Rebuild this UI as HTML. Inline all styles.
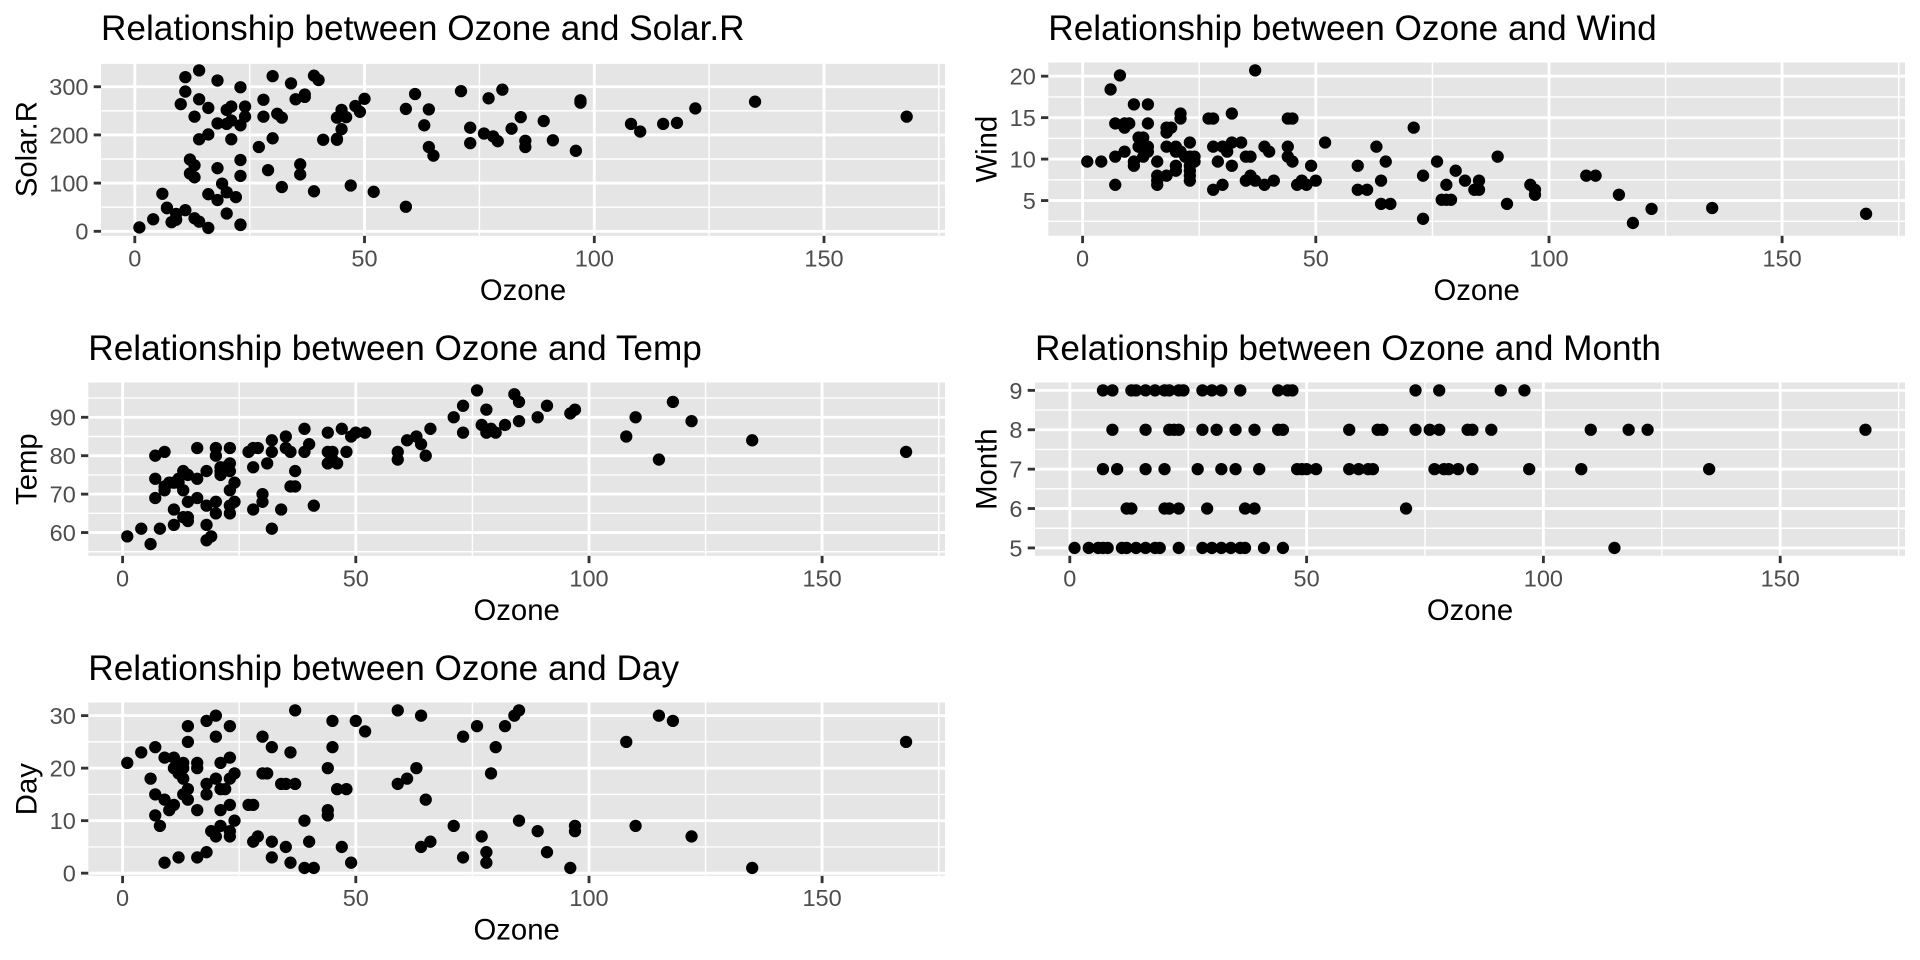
<!DOCTYPE html>
<html><head><meta charset="utf-8"><style>
html,body{margin:0;padding:0;background:#fff;}
svg{display:block;}
text{font-family:"Liberation Sans",Arial,Helvetica,sans-serif;}
.t{font-size:35.2px;fill:#000;}
.at{font-size:29.3px;fill:#000;}
.tk{font-size:23.5px;fill:#4D4D4D;}
.mn{stroke:#fff;stroke-width:1.42;}
.mj{stroke:#fff;stroke-width:2.85;}
.tm{stroke:#333;stroke-width:2.85;}
.pt{fill:none;stroke:#000;stroke-width:12.3;stroke-linecap:round;vector-effect:non-scaling-stroke;}
</style></head><body>
<svg width="1920" height="960" viewBox="0 0 1920 960" xmlns="http://www.w3.org/2000/svg">
<rect width="1920" height="960" fill="#fff"/>

<!-- Panel 1: Solar.R -->
<text class="t" x="101" y="40">Relationship between Ozone and Solar.R</text>
<rect x="101" y="62.5" width="844" height="173.3" fill="#E5E5E5"/>
<g class="mn">
<line x1="249.7" y1="62.5" x2="249.7" y2="235.8"/><line x1="479.4" y1="62.5" x2="479.4" y2="235.8"/><line x1="709.1" y1="62.5" x2="709.1" y2="235.8"/><line x1="938.8" y1="62.5" x2="938.8" y2="235.8"/>
<line x1="101" y1="207.21" x2="945" y2="207.21"/><line x1="101" y1="159.02" x2="945" y2="159.02"/><line x1="101" y1="110.84" x2="945" y2="110.84"/><line x1="101" y1="63.2" x2="945" y2="63.2"/>
</g>
<g class="mj">
<line x1="134.8" y1="62.5" x2="134.8" y2="235.8"/><line x1="364.5" y1="62.5" x2="364.5" y2="235.8"/><line x1="594.3" y1="62.5" x2="594.3" y2="235.8"/><line x1="824" y1="62.5" x2="824" y2="235.8"/>
<line x1="101" y1="231.3" x2="945" y2="231.3"/><line x1="101" y1="183.11" x2="945" y2="183.11"/><line x1="101" y1="134.93" x2="945" y2="134.93"/><line x1="101" y1="86.75" x2="945" y2="86.75"/>
</g>
<g class="tm">
<line x1="134.8" y1="235.8" x2="134.8" y2="243.1"/><line x1="364.5" y1="235.8" x2="364.5" y2="243.1"/><line x1="594.3" y1="235.8" x2="594.3" y2="243.1"/><line x1="824" y1="235.8" x2="824" y2="243.1"/>
<line x1="93.7" y1="231.3" x2="101" y2="231.3"/><line x1="93.7" y1="183.11" x2="101" y2="183.11"/><line x1="93.7" y1="134.93" x2="101" y2="134.93"/><line x1="93.7" y1="86.75" x2="101" y2="86.75"/>
</g>
<g class="tk" text-anchor="middle">
<text x="134.8" y="266.5">0</text><text x="364.5" y="266.5">50</text><text x="594.3" y="266.5">100</text><text x="824" y="266.5">150</text>
</g>
<g class="tk" text-anchor="end">
<text x="88.5" y="239.7">0</text><text x="88.5" y="191.5">100</text><text x="88.5" y="143.3">200</text><text x="88.5" y="95.2">300</text>
</g>
<text class="at" x="523" y="300" text-anchor="middle">Ozone</text>
<text class="at" transform="translate(36.7,149.15) rotate(-90)" text-anchor="middle">Solar.R</text>
<path class="pt" transform="translate(134.8,235.8) scale(4.5945,-0.48179) translate(0,9.35)" d="M41 190h0M36 118h0M12 149h0M18 313h0M23 299h0M19 99h0M8 19h0M16 256h0M11 290h0M14 274h0M18 65h0M14 334h0M34 307h0M6 78h0M30 322h0M11 44h0M1 8h0M11 320h0M4 25h0M32 92h0M23 13h0M45 252h0M115 223h0M37 279h0M29 127h0M71 291h0M39 323h0M23 148h0M21 191h0M37 284h0M20 37h0M12 120h0M13 137h0M135 269h0M49 248h0M32 236h0M64 175h0M40 314h0M77 276h0M97 267h0M97 272h0M85 175h0M10 264h0M27 175h0M7 48h0M48 260h0M35 274h0M61 285h0M79 187h0M63 220h0M16 7h0M80 294h0M108 223h0M20 81h0M52 82h0M82 213h0M50 275h0M64 253h0M59 254h0M39 83h0M9 24h0M16 77h0M122 255h0M89 229h0M110 207h0M44 192h0M28 273h0M65 157h0M22 71h0M59 51h0M23 115h0M31 244h0M44 190h0M21 259h0M9 36h0M45 212h0M168 238h0M73 215h0M76 203h0M118 225h0M84 237h0M85 188h0M96 167h0M78 197h0M73 183h0M91 189h0M47 95h0M32 92h0M20 252h0M23 220h0M21 230h0M24 259h0M44 236h0M21 259h0M28 238h0M9 24h0M13 112h0M46 237h0M18 224h0M13 27h0M24 238h0M16 201h0M13 238h0M23 14h0M36 139h0M7 49h0M14 20h0M30 193h0M14 191h0M18 131h0M20 223h0"/>

<!-- Panel 2: Wind -->
<text class="t" x="1048.3" y="40">Relationship between Ozone and Wind</text>
<rect x="1048.3" y="62.5" width="856.7" height="173.3" fill="#E5E5E5"/>
<g class="mn">
<line x1="1199.2" y1="62.5" x2="1199.2" y2="235.8"/><line x1="1432.4" y1="62.5" x2="1432.4" y2="235.8"/><line x1="1665.6" y1="62.5" x2="1665.6" y2="235.8"/><line x1="1898.7" y1="62.5" x2="1898.7" y2="235.8"/>
<line x1="1048.3" y1="221.29" x2="1905" y2="221.29"/><line x1="1048.3" y1="179.83" x2="1905" y2="179.83"/><line x1="1048.3" y1="138.37" x2="1905" y2="138.37"/><line x1="1048.3" y1="96.91" x2="1905" y2="96.91"/>
</g>
<g class="mj">
<line x1="1082.6" y1="62.5" x2="1082.6" y2="235.8"/><line x1="1315.8" y1="62.5" x2="1315.8" y2="235.8"/><line x1="1549" y1="62.5" x2="1549" y2="235.8"/><line x1="1782.1" y1="62.5" x2="1782.1" y2="235.8"/>
<line x1="1048.3" y1="200.56" x2="1905" y2="200.56"/><line x1="1048.3" y1="159.1" x2="1905" y2="159.1"/><line x1="1048.3" y1="117.64" x2="1905" y2="117.64"/><line x1="1048.3" y1="76.18" x2="1905" y2="76.18"/>
</g>
<g class="tm">
<line x1="1082.6" y1="235.8" x2="1082.6" y2="243.1"/><line x1="1315.8" y1="235.8" x2="1315.8" y2="243.1"/><line x1="1549" y1="235.8" x2="1549" y2="243.1"/><line x1="1782.1" y1="235.8" x2="1782.1" y2="243.1"/>
<line x1="1041" y1="200.56" x2="1048.3" y2="200.56"/><line x1="1041" y1="159.1" x2="1048.3" y2="159.1"/><line x1="1041" y1="117.64" x2="1048.3" y2="117.64"/><line x1="1041" y1="76.18" x2="1048.3" y2="76.18"/>
</g>
<g class="tk" text-anchor="middle">
<text x="1082.6" y="266.5">0</text><text x="1315.8" y="266.5">50</text><text x="1549" y="266.5">100</text><text x="1782.1" y="266.5">150</text>
</g>
<g class="tk" text-anchor="end">
<text x="1035.8" y="209">5</text><text x="1035.8" y="167.5">10</text><text x="1035.8" y="126">15</text><text x="1035.8" y="84.6">20</text>
</g>
<text class="at" x="1476.65" y="300" text-anchor="middle">Ozone</text>
<text class="at" transform="translate(996.7,149.15) rotate(-90)" text-anchor="middle">Wind</text>
<path class="pt" transform="translate(1082.6,235.8) scale(4.6636,-8.2919) translate(0,-0.75)" d="M41 7.4h0M36 8h0M12 12.6h0M18 11.5h0M28 14.9h0M23 8.6h0M19 13.8h0M8 20.1h0M7 6.9h0M16 9.7h0M11 9.2h0M14 10.9h0M18 13.2h0M14 11.5h0M34 12h0M6 18.4h0M30 11.5h0M11 9.7h0M1 9.7h0M11 16.6h0M4 9.7h0M32 12h0M23 12h0M45 14.9h0M115 5.7h0M37 7.4h0M29 9.7h0M71 13.8h0M39 11.5h0M23 8h0M21 14.9h0M37 20.7h0M20 9.2h0M12 11.5h0M13 10.3h0M135 4.1h0M49 9.2h0M32 9.2h0M64 4.6h0M40 10.9h0M77 5.1h0M97 6.3h0M97 5.7h0M85 7.4h0M10 14.3h0M27 14.9h0M7 14.3h0M48 6.9h0M35 10.3h0M61 6.3h0M79 5.1h0M63 11.5h0M16 6.9h0M80 8.6h0M108 8h0M20 8.6h0M52 12h0M82 7.4h0M50 7.4h0M64 7.4h0M59 9.2h0M39 6.9h0M9 13.8h0M16 7.4h0M78 6.9h0M35 7.4h0M66 4.6h0M122 4h0M89 10.3h0M110 8h0M44 11.5h0M28 11.5h0M65 9.7h0M22 10.3h0M59 6.3h0M23 7.4h0M31 10.9h0M44 10.3h0M21 15.5h0M9 14.3h0M45 9.7h0M168 3.4h0M73 8h0M76 9.7h0M118 2.3h0M84 6.3h0M85 6.3h0M96 6.9h0M78 5.1h0M73 2.8h0M91 4.6h0M47 7.4h0M32 15.5h0M20 10.9h0M23 10.3h0M21 10.9h0M24 9.7h0M44 14.9h0M21 15.5h0M28 6.3h0M9 10.9h0M13 11.5h0M46 6.9h0M18 13.8h0M13 10.3h0M24 10.3h0M16 8h0M13 12.6h0M23 9.2h0M36 10.3h0M7 10.3h0M14 16.6h0M30 6.9h0M14 14.3h0M18 8h0M20 11.5h0"/>

<!-- Panel 3: Temp -->
<text class="t" x="88.3" y="360">Relationship between Ozone and Temp</text>
<rect x="88.3" y="382.5" width="856.7" height="173.3" fill="#E5E5E5"/>
<g class="mn">
<line x1="239.2" y1="382.5" x2="239.2" y2="555.8"/><line x1="472.4" y1="382.5" x2="472.4" y2="555.8"/><line x1="705.6" y1="382.5" x2="705.6" y2="555.8"/><line x1="938.7" y1="382.5" x2="938.7" y2="555.8"/>
<line x1="88.3" y1="551.77" x2="945" y2="551.77"/><line x1="88.3" y1="513.34" x2="945" y2="513.34"/><line x1="88.3" y1="474.91" x2="945" y2="474.91"/><line x1="88.3" y1="436.49" x2="945" y2="436.49"/><line x1="88.3" y1="398.06" x2="945" y2="398.06"/>
</g>
<g class="mj">
<line x1="122.6" y1="382.5" x2="122.6" y2="555.8"/><line x1="355.8" y1="382.5" x2="355.8" y2="555.8"/><line x1="589" y1="382.5" x2="589" y2="555.8"/><line x1="822.1" y1="382.5" x2="822.1" y2="555.8"/>
<line x1="88.3" y1="532.55" x2="945" y2="532.55"/><line x1="88.3" y1="494.13" x2="945" y2="494.13"/><line x1="88.3" y1="455.7" x2="945" y2="455.7"/><line x1="88.3" y1="417.28" x2="945" y2="417.28"/>
</g>
<g class="tm">
<line x1="122.6" y1="555.8" x2="122.6" y2="563.1"/><line x1="355.8" y1="555.8" x2="355.8" y2="563.1"/><line x1="589" y1="555.8" x2="589" y2="563.1"/><line x1="822.1" y1="555.8" x2="822.1" y2="563.1"/>
<line x1="81" y1="532.55" x2="88.3" y2="532.55"/><line x1="81" y1="494.13" x2="88.3" y2="494.13"/><line x1="81" y1="455.7" x2="88.3" y2="455.7"/><line x1="81" y1="417.28" x2="88.3" y2="417.28"/>
</g>
<g class="tk" text-anchor="middle">
<text x="122.6" y="586.5">0</text><text x="355.8" y="586.5">50</text><text x="589" y="586.5">100</text><text x="822.1" y="586.5">150</text>
</g>
<g class="tk" text-anchor="end">
<text x="75.8" y="541">60</text><text x="75.8" y="502.5">70</text><text x="75.8" y="464.1">80</text><text x="75.8" y="425.7">90</text>
</g>
<text class="at" x="516.65" y="620" text-anchor="middle">Ozone</text>
<text class="at" transform="translate(36.7,469.15) rotate(-90)" text-anchor="middle">Temp</text>
<path class="pt" transform="translate(122.6,555.8) scale(4.6636,-3.8426) translate(0,-53.95)" d="M41 67h0M36 72h0M12 74h0M18 62h0M28 66h0M23 65h0M19 59h0M8 61h0M7 74h0M16 69h0M11 66h0M14 68h0M18 58h0M14 64h0M34 66h0M6 57h0M30 68h0M11 62h0M1 59h0M11 73h0M4 61h0M32 61h0M23 67h0M45 81h0M115 79h0M37 76h0M29 82h0M71 90h0M39 87h0M23 82h0M21 77h0M37 72h0M20 65h0M12 73h0M13 76h0M135 84h0M49 85h0M32 81h0M64 83h0M40 83h0M77 88h0M97 92h0M97 92h0M85 89h0M10 73h0M27 81h0M7 80h0M48 81h0M35 82h0M61 84h0M79 87h0M63 85h0M16 74h0M80 86h0M108 85h0M20 82h0M52 86h0M82 88h0M50 86h0M64 83h0M59 81h0M39 81h0M9 81h0M16 82h0M78 86h0M35 85h0M66 87h0M122 89h0M89 90h0M110 90h0M44 86h0M28 82h0M65 80h0M22 77h0M59 79h0M23 76h0M31 78h0M44 78h0M21 77h0M9 72h0M45 79h0M168 81h0M73 86h0M76 97h0M118 94h0M84 96h0M85 94h0M96 91h0M78 92h0M73 93h0M91 93h0M47 87h0M32 84h0M20 80h0M23 78h0M21 75h0M24 73h0M44 81h0M21 76h0M28 77h0M9 71h0M13 71h0M46 78h0M18 67h0M13 76h0M24 68h0M16 82h0M13 64h0M23 71h0M36 81h0M7 69h0M14 63h0M30 70h0M14 75h0M18 76h0M20 68h0"/>

<!-- Panel 4: Month -->
<text class="t" x="1035" y="360">Relationship between Ozone and Month</text>
<rect x="1035" y="382.5" width="870" height="173.3" fill="#E5E5E5"/>
<g class="mn">
<line x1="1188.2" y1="382.5" x2="1188.2" y2="555.8"/><line x1="1425" y1="382.5" x2="1425" y2="555.8"/><line x1="1661.8" y1="382.5" x2="1661.8" y2="555.8"/><line x1="1898.6" y1="382.5" x2="1898.6" y2="555.8"/>
<line x1="1035" y1="528.23" x2="1905" y2="528.23"/><line x1="1035" y1="488.84" x2="1905" y2="488.84"/><line x1="1035" y1="449.46" x2="1905" y2="449.46"/><line x1="1035" y1="410.07" x2="1905" y2="410.07"/>
</g>
<g class="mj">
<line x1="1069.8" y1="382.5" x2="1069.8" y2="555.8"/><line x1="1306.6" y1="382.5" x2="1306.6" y2="555.8"/><line x1="1543.4" y1="382.5" x2="1543.4" y2="555.8"/><line x1="1780.2" y1="382.5" x2="1780.2" y2="555.8"/>
<line x1="1035" y1="547.92" x2="1905" y2="547.92"/><line x1="1035" y1="508.54" x2="1905" y2="508.54"/><line x1="1035" y1="469.15" x2="1905" y2="469.15"/><line x1="1035" y1="429.76" x2="1905" y2="429.76"/><line x1="1035" y1="390.38" x2="1905" y2="390.38"/>
</g>
<g class="tm">
<line x1="1069.8" y1="555.8" x2="1069.8" y2="563.1"/><line x1="1306.6" y1="555.8" x2="1306.6" y2="563.1"/><line x1="1543.4" y1="555.8" x2="1543.4" y2="563.1"/><line x1="1780.2" y1="555.8" x2="1780.2" y2="563.1"/>
<line x1="1027.7" y1="547.92" x2="1035" y2="547.92"/><line x1="1027.7" y1="508.54" x2="1035" y2="508.54"/><line x1="1027.7" y1="469.15" x2="1035" y2="469.15"/><line x1="1027.7" y1="429.76" x2="1035" y2="429.76"/><line x1="1027.7" y1="390.38" x2="1035" y2="390.38"/>
</g>
<g class="tk" text-anchor="middle">
<text x="1069.8" y="586.5">0</text><text x="1306.6" y="586.5">50</text><text x="1543.4" y="586.5">100</text><text x="1780.2" y="586.5">150</text>
</g>
<g class="tk" text-anchor="end">
<text x="1022.5" y="556.3">5</text><text x="1022.5" y="516.9">6</text><text x="1022.5" y="477.5">7</text><text x="1022.5" y="438.2">8</text><text x="1022.5" y="398.8">9</text>
</g>
<text class="at" x="1470" y="620" text-anchor="middle">Ozone</text>
<text class="at" transform="translate(996.7,469.15) rotate(-90)" text-anchor="middle">Month</text>
<path class="pt" transform="translate(1069.8,555.8) scale(4.736,-39.386) translate(0,-4.8)" d="M41 5h0M36 5h0M12 5h0M18 5h0M28 5h0M23 5h0M19 5h0M8 5h0M7 5h0M16 5h0M11 5h0M14 5h0M18 5h0M14 5h0M34 5h0M6 5h0M30 5h0M11 5h0M1 5h0M11 5h0M4 5h0M32 5h0M23 5h0M45 5h0M115 5h0M37 5h0M29 6h0M71 6h0M39 6h0M23 6h0M21 6h0M37 6h0M20 6h0M12 6h0M13 6h0M135 7h0M49 7h0M32 7h0M64 7h0M40 7h0M77 7h0M97 7h0M85 7h0M10 7h0M27 7h0M7 7h0M48 7h0M35 7h0M61 7h0M79 7h0M63 7h0M16 7h0M80 7h0M108 7h0M20 7h0M52 7h0M82 7h0M50 7h0M64 7h0M59 7h0M39 8h0M9 8h0M16 8h0M78 8h0M35 8h0M66 8h0M122 8h0M89 8h0M110 8h0M44 8h0M28 8h0M65 8h0M22 8h0M59 8h0M23 8h0M31 8h0M21 8h0M9 8h0M45 8h0M168 8h0M73 8h0M76 8h0M118 8h0M84 8h0M85 8h0M96 9h0M78 9h0M73 9h0M91 9h0M47 9h0M32 9h0M20 9h0M23 9h0M21 9h0M24 9h0M44 9h0M28 9h0M9 9h0M13 9h0M46 9h0M18 9h0M16 9h0M36 9h0M7 9h0M14 9h0M30 9h0"/>

<!-- Panel 5: Day -->
<text class="t" x="88.3" y="680">Relationship between Ozone and Day</text>
<rect x="88.3" y="702.5" width="856.7" height="173.3" fill="#E5E5E5"/>
<g class="mn">
<line x1="239.2" y1="702.5" x2="239.2" y2="875.8"/><line x1="472.4" y1="702.5" x2="472.4" y2="875.8"/><line x1="705.6" y1="702.5" x2="705.6" y2="875.8"/><line x1="938.7" y1="702.5" x2="938.7" y2="875.8"/>
<line x1="88.3" y1="846.92" x2="945" y2="846.92"/><line x1="88.3" y1="794.4" x2="945" y2="794.4"/><line x1="88.3" y1="741.88" x2="945" y2="741.88"/>
</g>
<g class="mj">
<line x1="122.6" y1="702.5" x2="122.6" y2="875.8"/><line x1="355.8" y1="702.5" x2="355.8" y2="875.8"/><line x1="589" y1="702.5" x2="589" y2="875.8"/><line x1="822.1" y1="702.5" x2="822.1" y2="875.8"/>
<line x1="88.3" y1="873.17" x2="945" y2="873.17"/><line x1="88.3" y1="820.67" x2="945" y2="820.67"/><line x1="88.3" y1="768.14" x2="945" y2="768.14"/><line x1="88.3" y1="715.63" x2="945" y2="715.63"/>
</g>
<g class="tm">
<line x1="122.6" y1="875.8" x2="122.6" y2="883.1"/><line x1="355.8" y1="875.8" x2="355.8" y2="883.1"/><line x1="589" y1="875.8" x2="589" y2="883.1"/><line x1="822.1" y1="875.8" x2="822.1" y2="883.1"/>
<line x1="81" y1="873.17" x2="88.3" y2="873.17"/><line x1="81" y1="820.67" x2="88.3" y2="820.67"/><line x1="81" y1="768.14" x2="88.3" y2="768.14"/><line x1="81" y1="715.63" x2="88.3" y2="715.63"/>
</g>
<g class="tk" text-anchor="middle">
<text x="122.6" y="906">0</text><text x="355.8" y="906">50</text><text x="589" y="906">100</text><text x="822.1" y="906">150</text>
</g>
<g class="tk" text-anchor="end">
<text x="75.8" y="881.6">0</text><text x="75.8" y="829.1">10</text><text x="75.8" y="776.5">20</text><text x="75.8" y="724">30</text>
</g>
<text class="at" x="516.65" y="939.5" text-anchor="middle">Ozone</text>
<text class="at" transform="translate(36.7,789.15) rotate(-90)" text-anchor="middle">Day</text>
<path class="pt" transform="translate(122.6,875.8) scale(4.6636,-5.2515) translate(0,0.5)" d="M41 1h0M36 2h0M12 3h0M18 4h0M28 6h0M23 7h0M19 8h0M8 9h0M7 11h0M16 12h0M11 13h0M14 14h0M18 15h0M14 16h0M34 17h0M6 18h0M30 19h0M11 20h0M1 21h0M11 22h0M4 23h0M32 24h0M23 28h0M45 29h0M115 30h0M37 31h0M29 7h0M71 9h0M39 10h0M23 13h0M21 16h0M37 17h0M20 18h0M12 19h0M13 20h0M135 1h0M49 2h0M32 3h0M64 5h0M40 6h0M77 7h0M97 8h0M97 9h0M85 10h0M10 12h0M27 13h0M7 15h0M48 16h0M35 17h0M61 18h0M79 19h0M63 20h0M16 21h0M80 24h0M108 25h0M20 26h0M52 27h0M82 28h0M50 29h0M64 30h0M59 31h0M39 1h0M9 2h0M16 3h0M78 4h0M35 5h0M66 6h0M122 7h0M89 8h0M110 9h0M44 12h0M28 13h0M65 14h0M22 16h0M59 17h0M23 18h0M31 19h0M44 20h0M21 21h0M9 22h0M45 24h0M168 25h0M73 26h0M76 28h0M118 29h0M84 30h0M85 31h0M96 1h0M78 2h0M73 3h0M91 4h0M47 5h0M32 6h0M20 7h0M23 8h0M21 9h0M24 10h0M44 11h0M21 12h0M28 13h0M9 14h0M13 15h0M46 16h0M18 17h0M13 18h0M24 19h0M16 20h0M13 21h0M23 22h0M36 23h0M7 24h0M14 25h0M30 26h0M14 28h0M18 29h0M20 30h0"/>
</svg>
</body></html>
